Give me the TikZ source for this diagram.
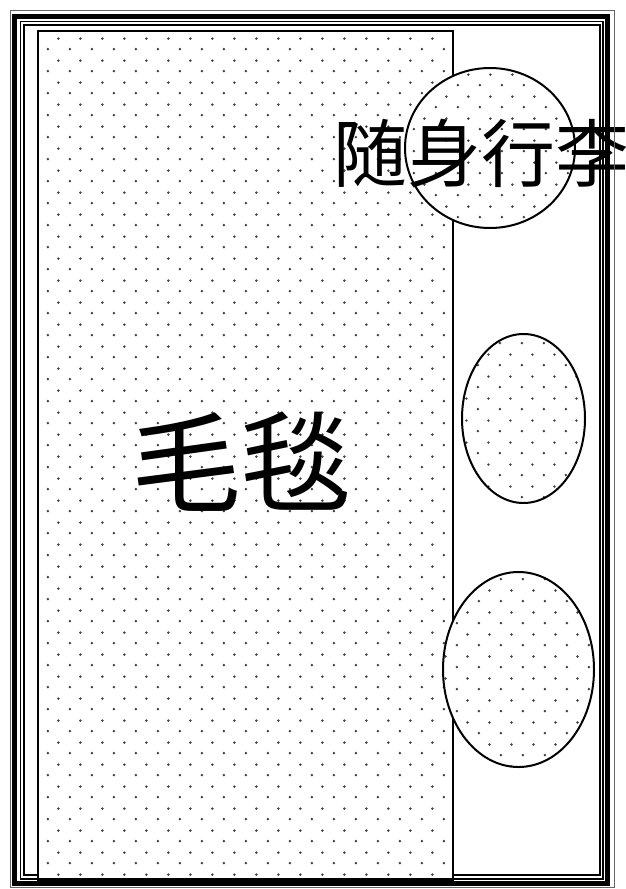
\documentclass[tikz,border=0pt]{standalone}
\usepackage{fontspec}
\newfontfamily\cjk{Noto Sans CJK SC}
\usetikzlibrary{patterns}

% staggered dot fill used for the blanket and the bags
\pgfdeclarepatternformonly{bagdots}{\pgfqpoint{0pt}{0pt}}{\pgfqpoint{21.5pt}{21.5pt}}{\pgfqpoint{21.5pt}{21.5pt}}{%
  \pgfpathcircle{\pgfqpoint{5pt}{5pt}}{1.4pt}%
  \pgfpathcircle{\pgfqpoint{15.75pt}{15.75pt}}{1.4pt}%
  \pgfusepath{fill}}

\tikzset{
  dotted area/.style={draw, line width=2pt, preaction={fill=white}, pattern=bagdots, pattern color=black!75},
  frame line/.style={draw, line width=#1}
}

\begin{document}
\begin{tikzpicture}[x=1pt, y=-1pt]
    \useasboundingbox (0,0) rectangle (625,889);
    \fill[white] (0,0) rectangle (625,889);

    % 后备箱内框
    \draw[frame line=2pt] (24,24.5) rectangle (600,875);

    % 毛毯
    \path[dotted area] (38,30.5) rectangle (453,880);

    % 行李
    \path[dotted area] (490,148) ellipse [x radius=85, y radius=80];
    \path[dotted area] (523.5,418.5) ellipse [x radius=61.5, y radius=84.5];
    \path[dotted area] (518.5,669.5) ellipse [x radius=75.5, y radius=97.5];

    % 文字
    \node (blanket) at (241,462) {\cjk\fontsize{110}{120}\selectfont 毛毯};
    \node[inner sep=0pt] (carryon) at (481,154) {\cjk\fontsize{74}{80}\selectfont 随身行李};

    % 外框
    \draw[frame line=1pt, black!60] (10.5,10.5) rectangle (614,887);
    \draw[frame line=5pt] (14,16) rectangle (607,883.5);
    \draw[frame line=1.5pt] (20.5,21.5) rectangle (603,879);
\end{tikzpicture}
\end{document}
